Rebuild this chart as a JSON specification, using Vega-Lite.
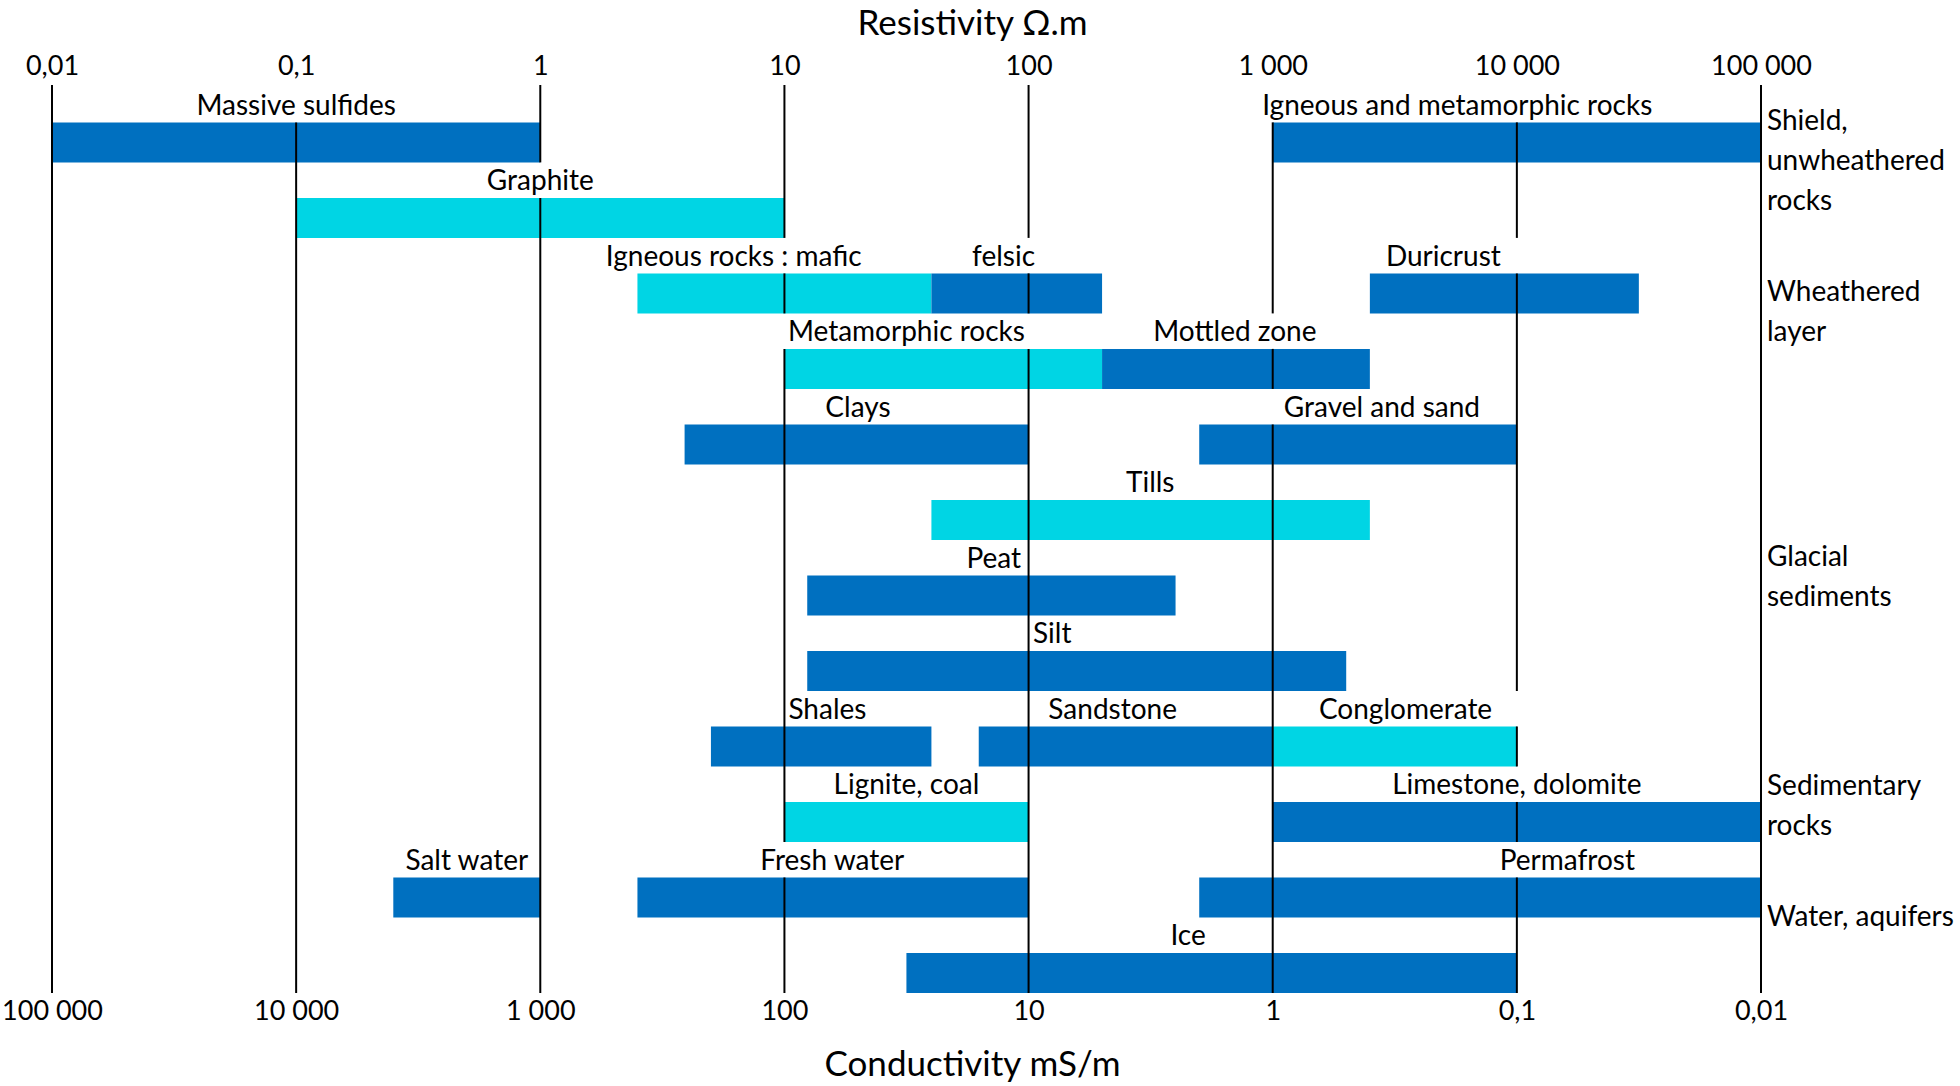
{
  "$schema": "https://vega.github.io/schema/vega-lite/v6.json",
  "width": 1709,
  "height": 908,
  "autosize": {"type": "none"},
  "padding": {"left": 52, "top": 85, "right": 199, "bottom": 93},
  "background": "white",
  "config": {
    "view": {"stroke": null},
    "font": "Lato",
    "axis": {
      "domain": false, "ticks": false, "tickSize": 0, "grid": false,
      "labelFont": "Lato", "labelFontSize": 27, "labelColor": "black",
      "titleFont": "Lato", "titleFontSize": 35, "titleFontWeight": "normal", "titleColor": "black",
      "labelFlush": false, "labelOverlap": false, "labelBound": false
    }
  },
  "datasets": {
    "bars": [
      {"name": "Massive sulfides", "lo": 0.01, "hi": 1, "lx": 0.1, "row": 1, "kind": "dark"},
      {"name": "Igneous and metamorphic rocks", "lo": 1000, "hi": 100000, "lx": 5700, "row": 1, "kind": "dark"},
      {"name": "Graphite", "lo": 0.1, "hi": 10, "lx": 1, "row": 2, "kind": "light"},
      {"name": "Igneous rocks : mafic", "lo": 2.5, "hi": 40, "lx": 6.2, "row": 3, "kind": "light"},
      {"name": "felsic", "lo": 40, "hi": 200, "lx": 79, "row": 3, "kind": "dark"},
      {"name": "Duricrust", "lo": 2500, "hi": 31600, "lx": 5000, "row": 3, "kind": "dark"},
      {"name": "Metamorphic rocks", "lo": 10, "hi": 200, "lx": 31.6, "row": 4, "kind": "light"},
      {"name": "Mottled zone", "lo": 200, "hi": 2500, "lx": 700, "row": 4, "kind": "dark"},
      {"name": "Clays", "lo": 3.9, "hi": 100, "lx": 20, "row": 5, "kind": "dark"},
      {"name": "Gravel and sand", "lo": 500, "hi": 10000, "lx": 2800, "row": 5, "kind": "dark"},
      {"name": "Tills", "lo": 40, "hi": 2500, "lx": 315, "row": 6, "kind": "light"},
      {"name": "Peat", "lo": 12.4, "hi": 400, "lx": 72, "row": 7, "kind": "dark"},
      {"name": "Silt", "lo": 12.4, "hi": 2000, "lx": 125, "row": 8, "kind": "dark"},
      {"name": "Shales", "lo": 5, "hi": 40, "lx": 15, "row": 9, "kind": "dark"},
      {"name": "Sandstone", "lo": 62.5, "hi": 1000, "lx": 221, "row": 9, "kind": "dark"},
      {"name": "Conglomerate", "lo": 1000, "hi": 10000, "lx": 3500, "row": 9, "kind": "light"},
      {"name": "Lignite, coal", "lo": 10, "hi": 100, "lx": 31.6, "row": 10, "kind": "light"},
      {"name": "Limestone, dolomite", "lo": 1000, "hi": 100000, "lx": 10000, "row": 10, "kind": "dark"},
      {"name": "Salt water", "lo": 0.25, "hi": 1, "lx": 0.5, "row": 11, "kind": "dark"},
      {"name": "Fresh water", "lo": 2.5, "hi": 100, "lx": 15.7, "row": 11, "kind": "dark"},
      {"name": "Permafrost", "lo": 500, "hi": 100000, "lx": 16100, "row": 11, "kind": "dark"},
      {"name": "Ice", "lo": 31.6, "hi": 10000, "lx": 450, "row": 12, "kind": "dark"}
    ],
    "grid": [
      {"v": 0.01, "y1": 0.24, "y2": 12.265},
      {"v": 0.1, "y1": 0.735, "y2": 12.265},
      {"v": 1, "y1": 0.24, "y2": 1.265},
      {"v": 1, "y1": 1.735, "y2": 12.265},
      {"v": 10, "y1": 0.24, "y2": 2.265},
      {"v": 10, "y1": 2.735, "y2": 3.265},
      {"v": 10, "y1": 3.735, "y2": 10.265},
      {"v": 10, "y1": 10.735, "y2": 12.265},
      {"v": 100, "y1": 0.24, "y2": 2.265},
      {"v": 100, "y1": 2.735, "y2": 3.265},
      {"v": 100, "y1": 3.735, "y2": 12.265},
      {"v": 1000, "y1": 0.735, "y2": 3.265},
      {"v": 1000, "y1": 3.735, "y2": 4.265},
      {"v": 1000, "y1": 4.735, "y2": 12.265},
      {"v": 10000, "y1": 0.735, "y2": 2.265},
      {"v": 10000, "y1": 2.735, "y2": 8.265},
      {"v": 10000, "y1": 8.735, "y2": 9.265},
      {"v": 10000, "y1": 9.735, "y2": 10.265},
      {"v": 10000, "y1": 10.735, "y2": 12.265},
      {"v": 100000, "y1": 0.24, "y2": 12.265}
    ],
    "groups": [
      {"t": "Shield,\nunwheathered\nrocks", "at": 100000, "r": 0.73},
      {"t": "Wheathered\nlayer", "at": 100000, "r": 2.99},
      {"t": "Glacial\nsediments", "at": 100000, "r": 6.5},
      {"t": "Sedimentary\nrocks", "at": 100000, "r": 9.54},
      {"t": "Water, aquifers", "at": 100000, "r": 11.27}
    ]
  },
  "resolve": {"axis": {"x": "independent"}},
  "layer": [
    {
      "data": {"name": "bars"},
      "mark": {"type": "rule", "strokeWidth": 40, "strokeCap": "butt"},
      "encoding": {
        "x": {
          "field": "lo", "type": "quantitative",
          "scale": {"type": "log", "domain": [0.01, 100000], "nice": false, "zero": false},
          "axis": {
            "orient": "top", "title": "Resistivity Ω.m",
            "values": [0.01, 0.1, 1, 10, 100, 1000, 10000, 100000],
            "labelExpr": "datum.value < 0.05 ? '0,01' : datum.value < 0.5 ? '0,1' : datum.value < 5 ? '1' : datum.value < 50 ? '10' : datum.value < 500 ? '100' : datum.value < 5000 ? '1 000' : datum.value < 50000 ? '10 000' : '100 000'",
            "labelBaseline": "middle", "labelPadding": 19,
            "titleBaseline": "middle", "titleY": -62, "titleX": 920, "titleAlign": "center"
          }
        },
        "x2": {"field": "hi"},
        "y": {
          "field": "row", "type": "quantitative",
          "scale": {"domain": [0.24, 12.265], "reverse": true, "nice": false, "zero": false},
          "axis": null
        },
        "color": {
          "field": "kind", "type": "nominal",
          "scale": {"domain": ["dark", "light"], "range": ["#0070C0", "#00D5E4"]},
          "legend": null
        }
      }
    },
    {
      "data": {"name": "grid"},
      "mark": {"type": "rule", "strokeWidth": 2, "color": "black"},
      "encoding": {
        "x": {
          "field": "v", "type": "quantitative",
          "axis": {
            "orient": "bottom", "title": "Conductivity mS/m",
            "values": [0.01, 0.1, 1, 10, 100, 1000, 10000, 100000],
            "labelExpr": "datum.value < 0.05 ? '100 000' : datum.value < 0.5 ? '10 000' : datum.value < 5 ? '1 000' : datum.value < 50 ? '100' : datum.value < 500 ? '10' : datum.value < 5000 ? '1' : datum.value < 50000 ? '0,1' : '0,01'",
            "labelBaseline": "middle", "labelPadding": 18,
            "titleBaseline": "middle", "titleY": 71, "titleX": 920, "titleAlign": "center"
          }
        },
        "y": {"field": "y1", "type": "quantitative", "axis": null},
        "y2": {"field": "y2"}
      }
    },
    {
      "data": {"name": "bars"},
      "mark": {"type": "text", "fontSize": 28, "font": "Lato", "color": "black", "baseline": "middle", "align": "center", "dy": -35.5},
      "encoding": {
        "x": {"field": "lx", "type": "quantitative", "axis": null},
        "y": {"field": "row", "type": "quantitative", "axis": null},
        "text": {"field": "name"}
      }
    },
    {
      "data": {"name": "groups"},
      "mark": {"type": "text", "fontSize": 28, "font": "Lato", "color": "black", "baseline": "middle", "align": "left", "dx": 6, "lineBreak": "\n", "lineHeight": 40},
      "encoding": {
        "x": {"field": "at", "type": "quantitative", "axis": null},
        "y": {"field": "r", "type": "quantitative", "axis": null},
        "text": {"field": "t"}
      }
    }
  ]
}
